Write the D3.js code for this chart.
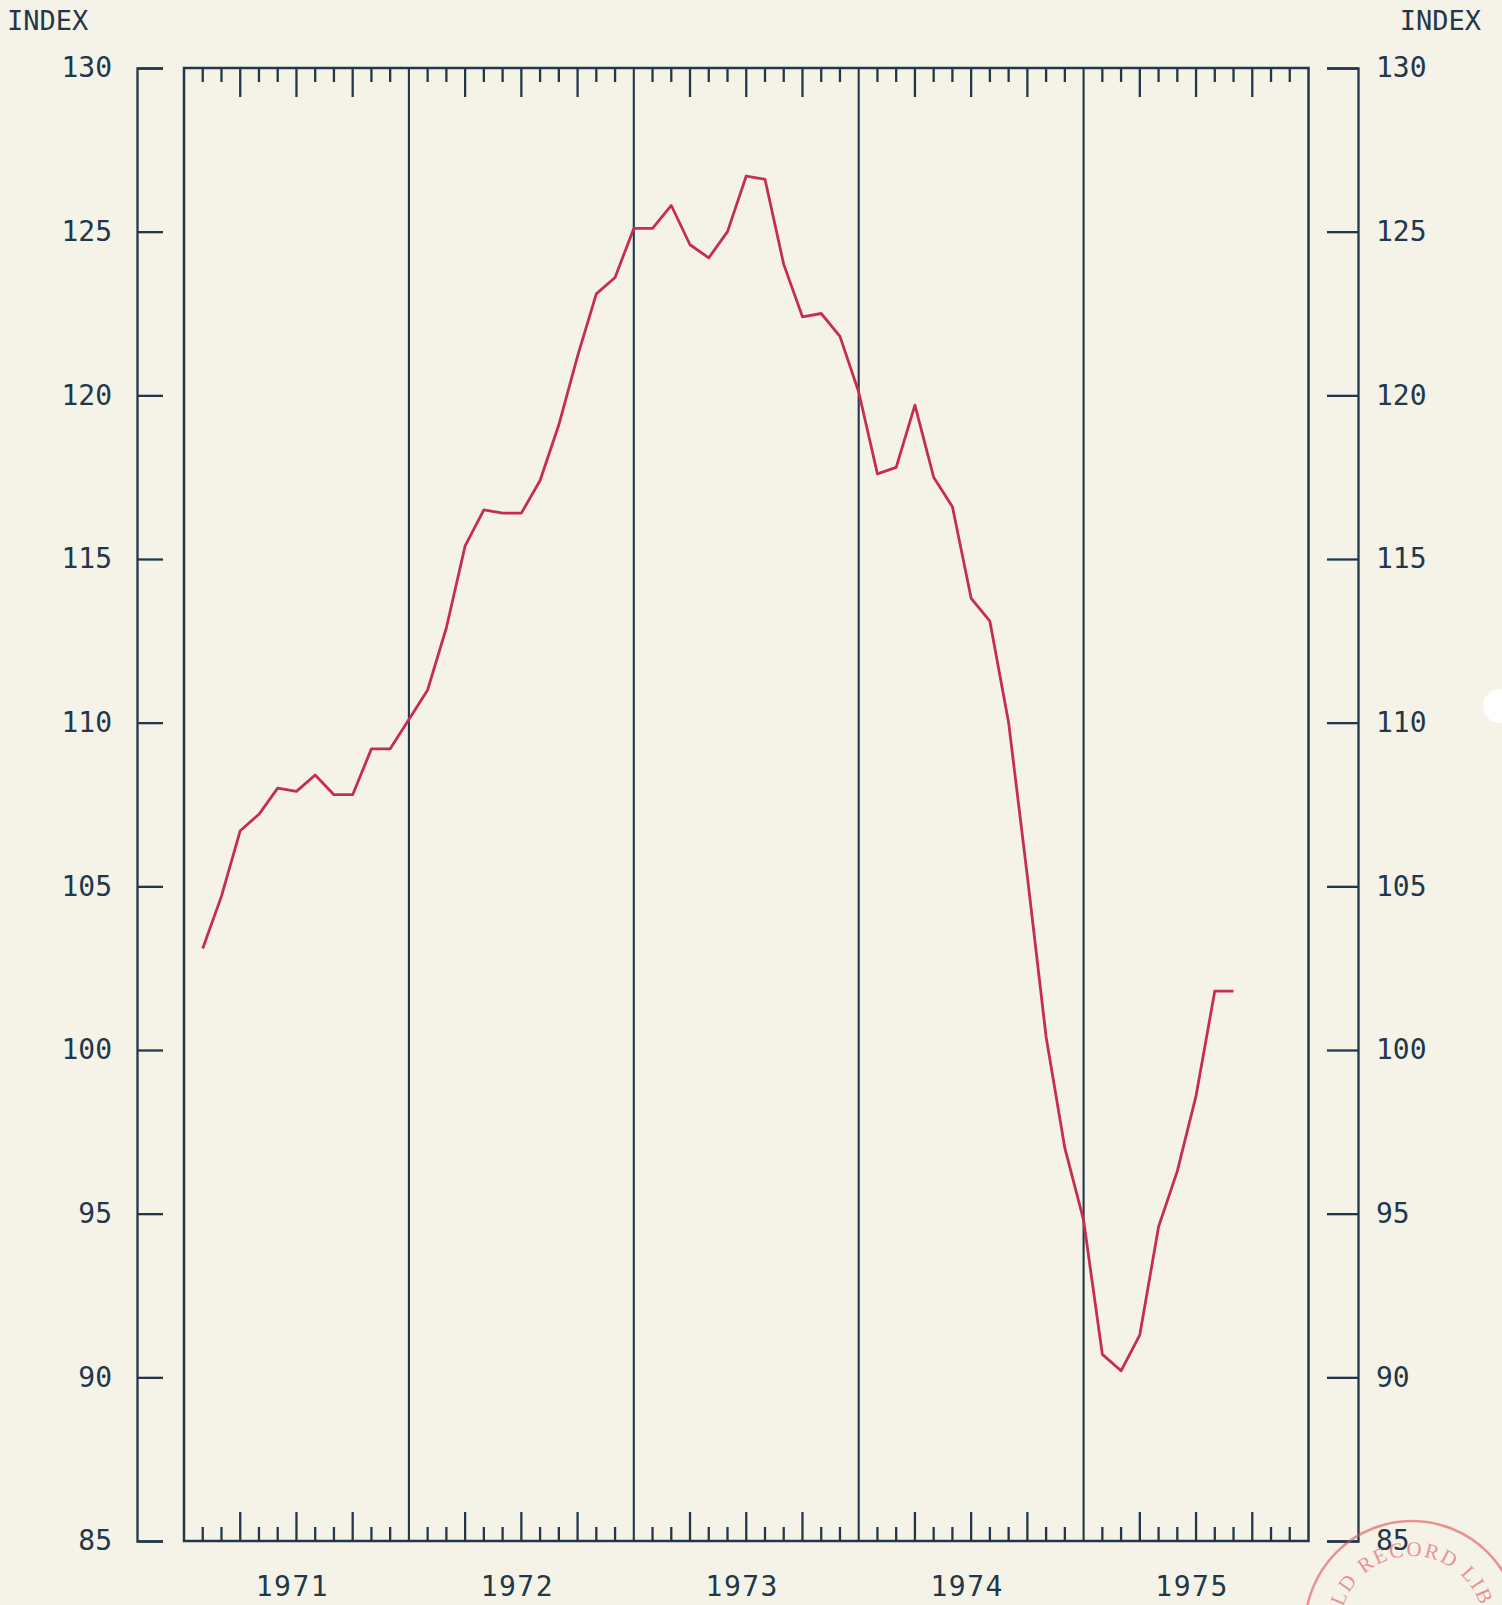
<!DOCTYPE html>
<html>
<head>
<meta charset="utf-8">
<script src="https://cdn.jsdelivr.net/npm/d3@7"></script>
<style>
  html, body { margin: 0; padding: 0; background: #f5f3e8; }
  svg { display: block; }
</style>
</head>
<body>
<svg id="chart" width="1502" height="1605"></svg>
<script>
// Monthly index, Jan 1971 – Aug 1975 (each value plotted at the end of its month)
const years = [1971, 1972, 1973, 1974, 1975];
const firstMonth = 1;   // months counted from the start of 1971
const values = [
  103.1, 104.7, 106.7, 107.2, 108.0, 107.9, 108.4, 107.8, 107.8, 109.2, 109.2, 110.1,
  111.0, 112.9, 115.4, 116.5, 116.4, 116.4, 117.4, 119.1, 121.2, 123.1, 123.6, 125.1,
  125.1, 125.8, 124.6, 124.2, 125.0, 126.7, 126.6, 124.0, 122.4, 122.5, 121.8, 120.1,
  117.6, 117.8, 119.7, 117.5, 116.6, 113.8, 113.1, 110.0, 105.3, 100.4, 97.0, 94.8,
  90.7, 90.2, 91.3, 94.6, 96.3, 98.6, 101.8, 101.8
];
const yTicks = [85, 90, 95, 100, 105, 110, 115, 120, 125, 130];
const yLabel = "INDEX";
const stampText = "LD RECORD LIB";

const ink = "#22384a";
const lineColor = "#c62e4e";
const stampColor = "#e0525e";
const monoFont = "'DejaVu Sans Mono', monospace";

const svg = d3.select("#chart");
const W = 1502, H = 1605;

svg.append("rect").attr("width", W).attr("height", H).attr("fill", "#f5f3e8");

const plot = { left: 184, right: 1308.5, top: 68, bottom: 1541 };
const nMonths = years.length * 12;

const x = d3.scaleLinear().domain([0, nMonths]).range([plot.left, plot.right]);
const y = d3.scaleLinear().domain([85, 130]).range([plot.bottom, plot.top]);

// Frame
svg.append("rect")
  .attr("x", plot.left).attr("y", plot.top)
  .attr("width", plot.right - plot.left).attr("height", plot.bottom - plot.top)
  .attr("fill", "none").attr("stroke", ink).attr("stroke-width", 2.5);

// Year dividers
svg.append("g").selectAll("line")
  .data(d3.range(1, years.length))
  .join("line")
  .attr("x1", d => x(d * 12)).attr("x2", d => x(d * 12))
  .attr("y1", plot.top).attr("y2", plot.bottom)
  .attr("stroke", ink).attr("stroke-width", 2.1);

// Month ticks on top and bottom edges (longer at quarters)
const monthTicks = d3.range(1, nMonths).filter(m => m % 12 !== 0);
const tickLen = m => (m % 3 === 0 ? 29 : 14);
const tg = svg.append("g").attr("stroke", ink).attr("stroke-width", 2.3);
tg.selectAll("line.top").data(monthTicks).join("line").attr("class", "top")
  .attr("x1", d => x(d)).attr("x2", d => x(d))
  .attr("y1", plot.top).attr("y2", d => plot.top + tickLen(d));
tg.selectAll("line.bot").data(monthTicks).join("line").attr("class", "bot")
  .attr("x1", d => x(d)).attr("x2", d => x(d))
  .attr("y1", plot.bottom).attr("y2", d => plot.bottom - tickLen(d));

// Year labels
svg.append("g").selectAll("text")
  .data(years)
  .join("text")
  .attr("x", (d, i) => x(i * 12 + 6) - 4)
  .attr("y", 1596)
  .attr("text-anchor", "middle")
  .attr("font-family", monoFont)
  .attr("font-size", 28)
  .attr("letter-spacing", 1.5)
  .attr("fill", ink)
  .text(d => d);

// Left value axis (ticks point inward toward the frame)
const leftAxis = d3.axisLeft(y).tickValues(yTicks)
  .tickSizeInner(-26).tickSizeOuter(-26).tickPadding(25);
const gL = svg.append("g").attr("transform", "translate(137,0)").call(leftAxis);

// Right value axis
const rightAxis = d3.axisRight(y).tickValues(yTicks)
  .tickSizeInner(-31).tickSizeOuter(-31).tickPadding(18);
const gR = svg.append("g").attr("transform", "translate(1358,0)").call(rightAxis);

[gL, gR].forEach(g => {
  g.select(".domain").attr("stroke", ink).attr("stroke-width", 2.3);
  g.selectAll(".tick line").attr("stroke", ink).attr("stroke-width", 2.3);
  g.selectAll(".tick text")
    .attr("font-family", monoFont)
    .attr("font-size", 28)
    .attr("fill", ink);
});

// Axis titles
svg.append("text").attr("x", 7).attr("y", 30)
  .attr("font-family", monoFont).attr("font-size", 27).attr("fill", ink)
  .text(yLabel);
svg.append("text").attr("x", 1481).attr("y", 30).attr("text-anchor", "end")
  .attr("font-family", monoFont).attr("font-size", 27).attr("fill", ink)
  .text(yLabel);

// Series line
const line = d3.line()
  .x((d, i) => x(firstMonth + i))
  .y(d => y(d));

svg.append("path")
  .datum(values)
  .attr("d", line)
  .attr("fill", "none")
  .attr("stroke", lineColor)
  .attr("stroke-width", 2.8)
  .attr("stroke-linejoin", "round");

// Library stamp in the bottom right corner, partly off the page
const sc = { cx: 1412, cy: 1628, r: 107, rt: 72 };
const stamp = svg.append("g").attr("opacity", 0.6);
stamp.append("circle").attr("cx", sc.cx).attr("cy", sc.cy).attr("r", sc.r)
  .attr("fill", "none").attr("stroke", stampColor).attr("stroke-width", 2.5);
const a0 = 180 * Math.PI / 180, a1 = 360 * Math.PI / 180;
const p0 = [sc.cx + sc.rt * Math.cos(a0), sc.cy + sc.rt * Math.sin(a0)];
const p1 = [sc.cx + sc.rt * Math.cos(a1), sc.cy + sc.rt * Math.sin(a1)];
stamp.append("path").attr("id", "stampArc")
  .attr("d", `M ${p0[0]},${p0[1]} A ${sc.rt},${sc.rt} 0 0 1 ${p1[0]},${p1[1]}`)
  .attr("fill", "none");
stamp.append("text")
  .attr("font-family", "'Liberation Serif', serif")
  .attr("font-size", 21).attr("fill", stampColor).attr("letter-spacing", 2)
  .attr("text-anchor", "middle")
  .append("textPath").attr("href", "#stampArc").attr("startOffset", "50%")
  .text(stampText);

// Punched hole on the right edge
svg.append("circle").attr("cx", 1500).attr("cy", 706).attr("r", 17).attr("fill", "#ffffff");
</script>
</body>
</html>
